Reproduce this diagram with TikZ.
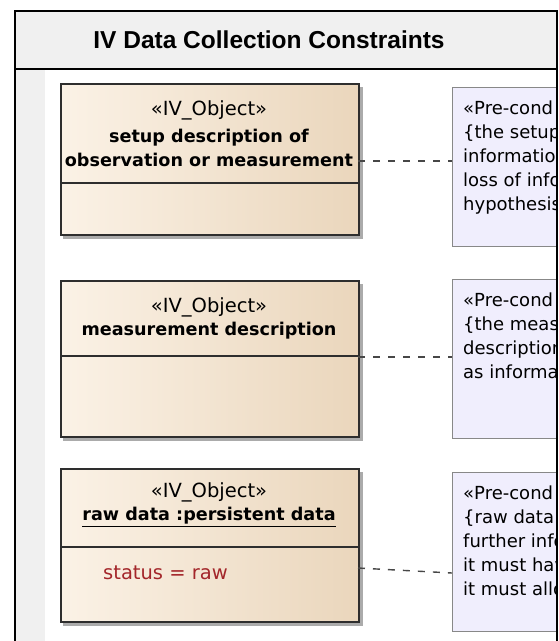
\documentclass[tikz,border=0pt]{standalone}
\usepackage{fontspec}
\setmainfont{DejaVu Sans}
\newfontfamily\titlefont{Liberation Sans}
\usetikzlibrary{positioning}
\usepackage{xcolor}

\definecolor{bandgray}{HTML}{F0F0F0}
\definecolor{objlight}{HTML}{FBF2E6}
\definecolor{objdark}{HTML}{EAD6BC}
\definecolor{objline}{HTML}{2E2E2E}
\definecolor{shadowgray}{HTML}{ABABAB}
\definecolor{notefill}{HTML}{F0EEFD}
\definecolor{noteline}{HTML}{888888}
\definecolor{attrred}{HTML}{A3262A}

\tikzset{
  objbox/.style={draw=objline, line width=1.5pt, left color=objlight, right color=objdark,
                 anchor=north west, inner sep=0pt, minimum width=298pt},
  notebox/.style={draw=noteline, line width=1.4pt, fill=notefill,
                  anchor=north west, inner sep=0pt, minimum width=160pt},
  stereo/.style={font=\fontsize{19.5}{24}\selectfont},
  objname/.style={font=\bfseries\fontsize{17.6}{24.5}\selectfont, align=center},
  notetext/.style={font=\fontsize{18}{24}\selectfont, align=left, anchor=north west, inner sep=0pt},
  constraint/.style={dash pattern=on 7pt off 8pt, line width=1.4pt, draw=black!72}
}

\begin{document}
\begin{tikzpicture}[x=1pt, y=-1pt]
  \useasboundingbox (0,0) rectangle (559,641);

  % frame background
  \fill[bandgray] (15,11) rectangle (557,69);
  \fill[bandgray] (15,69) rectangle (45,641);
  \node[font=\titlefont\bfseries\fontsize{24.5}{28}\selectfont] (title) at (269,40) {IV Data Collection Constraints};

  % object 1
  \fill[shadowgray] (63,87) rectangle (363,239);
  \node[objbox, minimum height=151pt] (setup) at (60,83) {};
  \draw[objline, line width=1.5pt] (60,183) -- (358,183);
  \node[stereo] (setup-st) at (209,110) {«IV\_Object»};
  \node[objname] (setup-name) at (209,148) {setup description of\\observation or measurement};

  % object 2
  \fill[shadowgray] (63,284) rectangle (363,441);
  \node[objbox, minimum height=156pt] (meas) at (60,280) {};
  \draw[objline, line width=1.5pt] (60,356) -- (358,356);
  \node[stereo] (meas-st) at (209,307) {«IV\_Object»};
  \node[objname] (meas-name) at (209,331) {measurement description};

  % object 3
  \fill[shadowgray] (63,472) rectangle (363,626);
  \node[objbox, minimum height=153pt] (raw) at (60,468) {};
  \draw[objline, line width=1.5pt] (60,547) -- (358,547);
  \node[stereo] (raw-st) at (209,492) {«IV\_Object»};
  \node[objname] (raw-name) at (209,517) {\underline{raw data :persistent data}};
  \node[stereo, text=attrred, anchor=west, inner sep=0pt] (raw-attr) at (103,573) {status = raw};

  % constraint notes, cut by the frame
  \begin{scope}
    \clip (15,11) rectangle (557,641);
    \node[notebox, minimum height=159pt] (setup-note) at (452,87) {};
    \node[notetext] (setup-text) at (463,101) {«Pre-cond\\\{the setup\\informatio\\loss of info\\hypothesis};
    \node[notebox, minimum height=159pt] (meas-note) at (452,279) {};
    \node[notetext] (meas-text) at (463,293) {«Pre-cond\\\{the measu\\description\\as informa};
    \node[notebox, minimum height=159pt] (raw-note) at (452,472) {};
    \node[notetext] (raw-text) at (463,486) {«Pre-cond\\\{raw data i\\further info\\it must hav\\it must allo};
  \end{scope}

  % connectors
  \coordinate (setup-out) at (358,161);
  \coordinate (setup-in) at (452,161);
  \coordinate (meas-out) at (358,357);
  \coordinate (meas-in) at (452,357);
  \coordinate (raw-out) at (358,568);
  \coordinate (raw-in) at (452,573);
  \draw[constraint] (setup-out) -- (setup-in);
  \draw[constraint] (meas-out) -- (meas-in);
  \draw[constraint] (raw-out) -- (raw-in);

  % frame border
  \draw[line width=1.5pt] (15,69) -- (557,69);
  \draw[line width=2pt] (15,641) -- (15,11) -- (557,11) -- (557,641);
\end{tikzpicture}
\end{document}
